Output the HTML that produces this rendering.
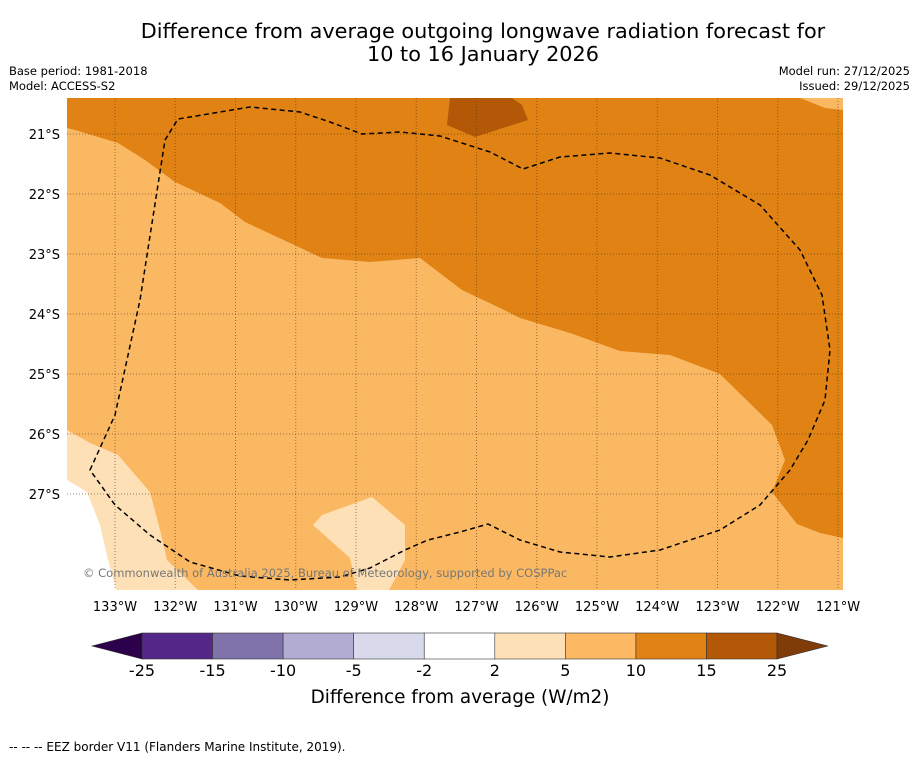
<!DOCTYPE html>
<html><head><meta charset="utf-8"><style>
body{margin:0;background:#fff;font-family:"Liberation Sans","DejaVu Sans",sans-serif;}
svg text{font-family:"DejaVu Sans","Liberation Sans",sans-serif;}
</style></head><body>
<svg width="919" height="758" viewBox="0 0 919 758" xmlns="http://www.w3.org/2000/svg">
<text x="483" y="38" text-anchor="middle" font-size="20.8" fill="#000">Difference from average outgoing longwave radiation forecast for</text>
<text x="483" y="61" text-anchor="middle" font-size="20.8" fill="#000">10 to 16 January 2026</text>
<text x="9" y="75" font-size="11.5">Base period: 1981-2018</text>
<text x="9" y="90" font-size="11.5">Model: ACCESS-S2</text>
<text x="910" y="75" font-size="11.5" text-anchor="end">Model run: 27/12/2025</text>
<text x="910" y="90" font-size="11.5" text-anchor="end">Issued: 29/12/2025</text>
<defs><clipPath id="mc"><rect x="67" y="98" width="776" height="492"/></clipPath></defs>
<g clip-path="url(#mc)">
<rect x="67" y="98" width="776" height="492" fill="#fbb862"/>
<polygon fill="#e08214" points="67,98 800,98 825,108 843,110 843,538 820,533 797,524 772,492 785,460 772,425 720,374 670,355 620,351 570,333 520,318 500,308 462,290 420,258 370,262 322,258 290,243 245,222 220,203 175,182 145,160 118,143 75,130 67,128"/>
<polygon fill="#b35806" points="450,98 512,98 522,105 528,120 475,137 447,125"/>
<polygon fill="#fee0b6" points="67,430 90,443 118,455 150,492 160,530 167,560 200,592 67,592"/>
<polygon fill="#ffffff" points="67,480 87,492 100,525 108,560 117,592 67,592"/>
<polygon fill="#fee0b6" points="313,525 322,515 372,497 405,525 405,560 388,592 357,592 350,558"/>
<g id="grid" stroke="#5a3a10" stroke-opacity="0.6" stroke-width="1" stroke-dasharray="1,2"></g>
<path fill="none" stroke="#000" stroke-width="1.5" stroke-dasharray="5,3.5" d="M90,470 L115,415 L140,300 L165,140 L178,119 L250,107 L300,112 L330,122 L362,134 L400,132 L440,136 L490,152 L523,169 L560,157 L610,153 L660,158 L710,175 L760,205 L800,250 L822,295 L830,350 L825,400 L808,440 L790,470 L760,505 L720,530 L660,550 L610,557 L560,552 L520,540 L488,524 L460,532 L428,540 L405,550 L370,568 L340,577 L290,580 L240,576 L190,562 L150,535 L115,505 Z"/>
<text x="83" y="577" font-size="11.5" fill="#777">© Commonwealth of Australia 2025, Bureau of Meteorology, supported by COSPPac</text>
</g>
<g id="axes" font-size="13"></g>
<g id="cbar"></g>
<text x="460" y="703" text-anchor="middle" font-size="18.4">Difference from average (W/m2)</text>
<text x="9" y="751" font-size="12">--  --  -- EEZ border V11 (Flanders Marine Institute, 2019).</text>
</svg>
<script>
const lons=[133,132,131,130,129,128,127,126,125,124,123,122,121];
const lats=[21,22,23,24,25,26,27];
const cbLevels=["-25","-15","-10","-5","-2","2","5","10","15","25"];
const cbColors=["#542788","#8073ac","#b2abd2","#d8daeb","#ffffff","#fee0b6","#fdb863","#e08214","#b35806"];
const NS="http://www.w3.org/2000/svg";
function xOf(lon){return 115+(133-lon)*60.25;}
function yOf(lat){return 134+(lat-21)*60;}
const grid=document.getElementById('grid'),axes=document.getElementById('axes'),cb=document.getElementById('cbar');
lons.forEach(l=>{const x=xOf(l);
const ln=document.createElementNS(NS,'line');ln.setAttribute('x1',x);ln.setAttribute('x2',x);ln.setAttribute('y1',98);ln.setAttribute('y2',590);


grid.appendChild(ln);
const t=document.createElementNS(NS,'text');t.setAttribute('x',x);t.setAttribute('y',611);t.setAttribute('text-anchor','middle');t.textContent=l+'°W';


axes.appendChild(t);});
lats.forEach(l=>{const y=yOf(l);
const ln=document.createElementNS(NS,'line');ln.setAttribute('x1',67);ln.setAttribute('x2',843);ln.setAttribute('y1',y);ln.setAttribute('y2',y);


grid.appendChild(ln);
const t=document.createElementNS(NS,'text');t.setAttribute('x',60);t.setAttribute('y',y+5);t.setAttribute('text-anchor','end');t.textContent=l+'°S';


axes.appendChild(t);});
const cx0=142,cw=70.56,cy=633,ch=26;
cbColors.forEach((c,i)=>{const r=document.createElementNS(NS,'rect');r.setAttribute('x',cx0+i*cw);r.setAttribute('y',cy);r.setAttribute('width',cw);r.setAttribute('height',ch);r.setAttribute('fill',c);r.setAttribute('stroke','#333');r.setAttribute('stroke-width','0.6');


cb.appendChild(r);});
const end=cx0+cbColors.length*cw;
const t1=document.createElementNS(NS,'polygon');t1.setAttribute('points',`${cx0},${cy} 92,${cy+ch/2} ${cx0},${cy+ch}`);t1.setAttribute('fill','#2d004b');t1.setAttribute('stroke','#333');t1.setAttribute('stroke-width','0.6');


cb.appendChild(t1);
const t2=document.createElementNS(NS,'polygon');t2.setAttribute('points',`${end},${cy} 828,${cy+ch/2} ${end},${cy+ch}`);t2.setAttribute('fill','#7f3b08');t2.setAttribute('stroke','#333');t2.setAttribute('stroke-width','0.6');


cb.appendChild(t2);
cbLevels.forEach((v,i)=>{const t=document.createElementNS(NS,'text');t.setAttribute('x',cx0+i*cw);t.setAttribute('y',676);t.setAttribute('text-anchor','middle');t.setAttribute('font-size','16');t.textContent=v;


cb.appendChild(t);});
</script>
</body></html>
